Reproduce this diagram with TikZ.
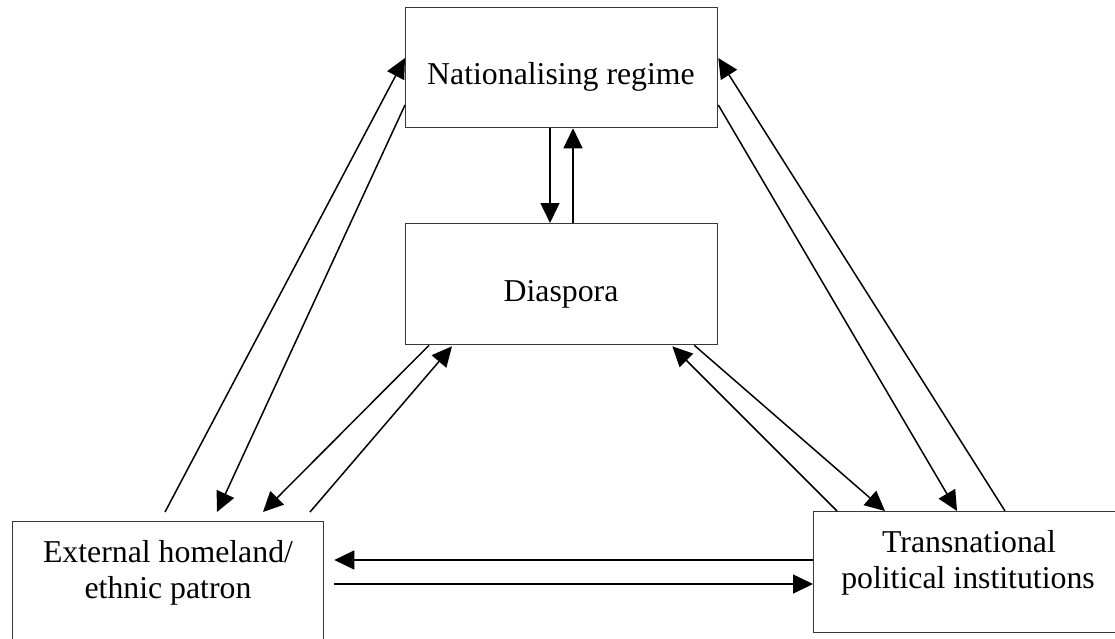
\documentclass[tikz,border=0pt]{standalone}
\usepackage{fontspec}
\setmainfont{Liberation Serif}
\usetikzlibrary{arrows.meta}
\begin{document}
\begin{tikzpicture}[x=1pt,y=-1pt,
  box/.style={draw=black!78,line width=1.3pt,fill=white,inner sep=0pt,anchor=north west},
  label/.style={inner sep=0pt,anchor=base,font=\fontsize{31.8}{36}\selectfont},
  link/.style={line width=1.5pt,-{Triangle[length=20pt,width=19pt]}}]
\useasboundingbox (0,0) rectangle (1115,638);
\clip (0,0) rectangle (1115,638);
\fill[white] (0,0) rectangle (1115,638);

% actor boxes
\node[box,minimum width=312pt,minimum height=120pt] (nat) at (405,7) {};
\node[box,minimum width=312pt,minimum height=121pt] (dia) at (405,223) {};
\node[box,minimum width=311pt,minimum height=140pt] (ext) at (12,521) {};
\node[box,minimum width=320pt,minimum height=121pt] (tra) at (813,511) {};

% box captions
\node[label] (natT) at (561,84) {Nationalising regime};
\node[label] (diaT) at (561,301) {Diaspora};
\node[label] (extT1) at (168,562) {External homeland/};
\node[label] (extT2) at (168,598) {ethnic patron};
\node[label] (traT1) at (969,552) {Transnational};
\node[label] (traT2) at (968,588) {political institutions};

% regime <-> diaspora
\draw[link] ([xshift=145pt]nat.south west) -- ([xshift=145pt]dia.north west);
\draw[link] ([xshift=168pt]dia.north west) -- ([xshift=168pt]nat.south west);

% homeland <-> regime
\draw[link] ([xshift=153pt,yshift=9pt]ext.north west) -- ([yshift=-51pt]nat.north west);
\draw[link] ([yshift=-98pt]nat.north west) -- ([xshift=205pt,yshift=9pt]ext.north west);

% homeland <-> diaspora
\draw[link] ([xshift=24pt]dia.south west) -- ([xshift=251pt,yshift=9pt]ext.north west);
\draw[link] ([xshift=298pt,yshift=9pt]ext.north west) -- ([xshift=47pt,yshift=-1pt]dia.south west);

% institutions <-> regime
\draw[link] ([xshift=192pt]tra.north west) -- ([yshift=-51pt]nat.north east);
\draw[link] ([yshift=-98pt]nat.north east) -- ([xshift=144pt]tra.north west);

% institutions <-> diaspora
\draw[link] ([xshift=-24pt]dia.south east) -- ([xshift=72pt]tra.north west);
\draw[link] ([xshift=24pt]tra.north west) -- ([xshift=-46pt,yshift=-1pt]dia.south east);

% homeland <-> institutions
\draw[link] ([yshift=-49pt]tra.north west) -- ([xshift=10pt,yshift=-39pt]ext.north east);
\draw[link] ([xshift=10pt,yshift=-63pt]ext.north east) -- ([yshift=-73pt]tra.north west);
\end{tikzpicture}
\end{document}
